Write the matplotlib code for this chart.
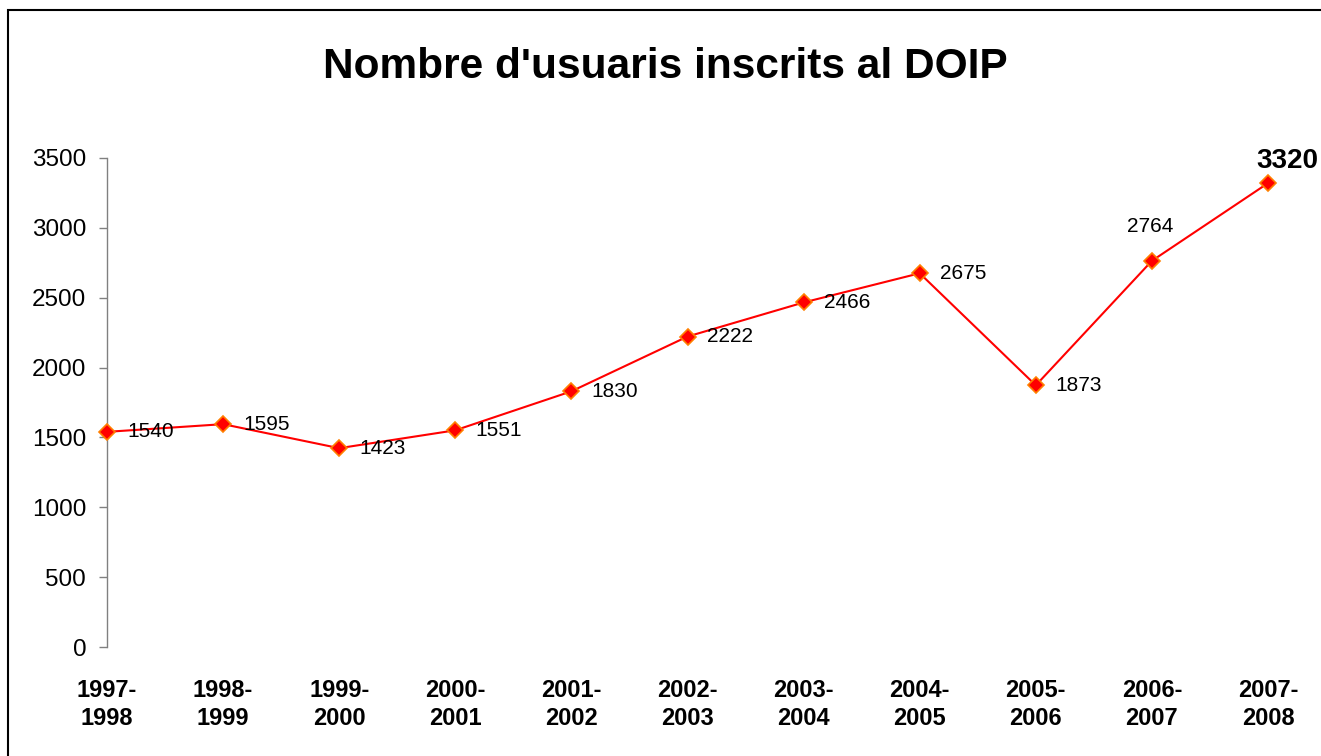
import matplotlib
matplotlib.use("Agg")
import matplotlib.pyplot as plt
from matplotlib.patches import Rectangle

plt.rcParams['font.family'] = ['Liberation Sans', 'DejaVu Sans']

categories = ["1997-\n1998", "1998-\n1999", "1999-\n2000", "2000-\n2001", "2001-\n2002",
              "2002-\n2003", "2003-\n2004", "2004-\n2005", "2005-\n2006", "2006-\n2007",
              "2007-\n2008"]
values = [1540, 1595, 1423, 1551, 1830, 2222, 2466, 2675, 1873, 2764, 3320]
yticks = [0, 500, 1000, 1500, 2000, 2500, 3000, 3500]
title = "Nombre d'usuaris inscrits al DOIP"

W, H = 1321, 756
fig = plt.figure(figsize=(W / 100, H / 100), dpi=100)
fig.patch.set_facecolor('white')

# outer frame
fig.add_artist(Rectangle((8 / W, -0.2), 1.5, 1 - 10 / H + 0.2, transform=fig.transFigure,
                         fill=False, edgecolor='black', linewidth=1.5))

ax = fig.add_axes([107 / W, (H - 647) / H, (1268 - 107) / W, (647 - 158) / H])
x = list(range(len(values)))
ax.plot(x, values, color='#FF0000', linewidth=1.5, marker='D', markersize=8.5,
        markerfacecolor='#FF0000', markeredgecolor='#FF8000', markeredgewidth=1.2,
        clip_on=False, zorder=3)

ax.set_xlim(0, len(values) - 1)
ax.set_ylim(0, 3500)
ax.set_yticks(yticks)
ax.set_yticklabels([str(t) for t in yticks], fontsize=17.5)
ax.set_xticks(x)
ax.set_xticklabels(categories, fontsize=17, fontweight='bold', linespacing=1.3)
ax.tick_params(axis='x', length=0, pad=23)
ax.tick_params(axis='y', length=6, width=1, color='#808080', pad=9, direction='out')

for s in ['top', 'right', 'bottom']:
    ax.spines[s].set_visible(False)
ax.spines['left'].set_color('#808080')
ax.spines['left'].set_linewidth(1)

for i, v in enumerate(values):
    if i == len(values) - 1:
        ax.annotate(str(v), (i, v), xytext=(19, 22), textcoords='offset pixels',
                    ha='center', va='center', fontsize=20, fontweight='bold')
    elif i == len(values) - 2:
        ax.annotate(str(v), (i, v), xytext=(-2, 34), textcoords='offset pixels',
                    ha='center', va='center', fontsize=15)
    else:
        ax.annotate(str(v), (i, v), xytext=(20, 0), textcoords='offset pixels',
                    ha='left', va='center', fontsize=15)

fig.text(665 / W, 1 - 67 / H, title, ha='center', va='center', fontsize=30.5, fontweight='bold')

fig.savefig('out.png', dpi=100)
